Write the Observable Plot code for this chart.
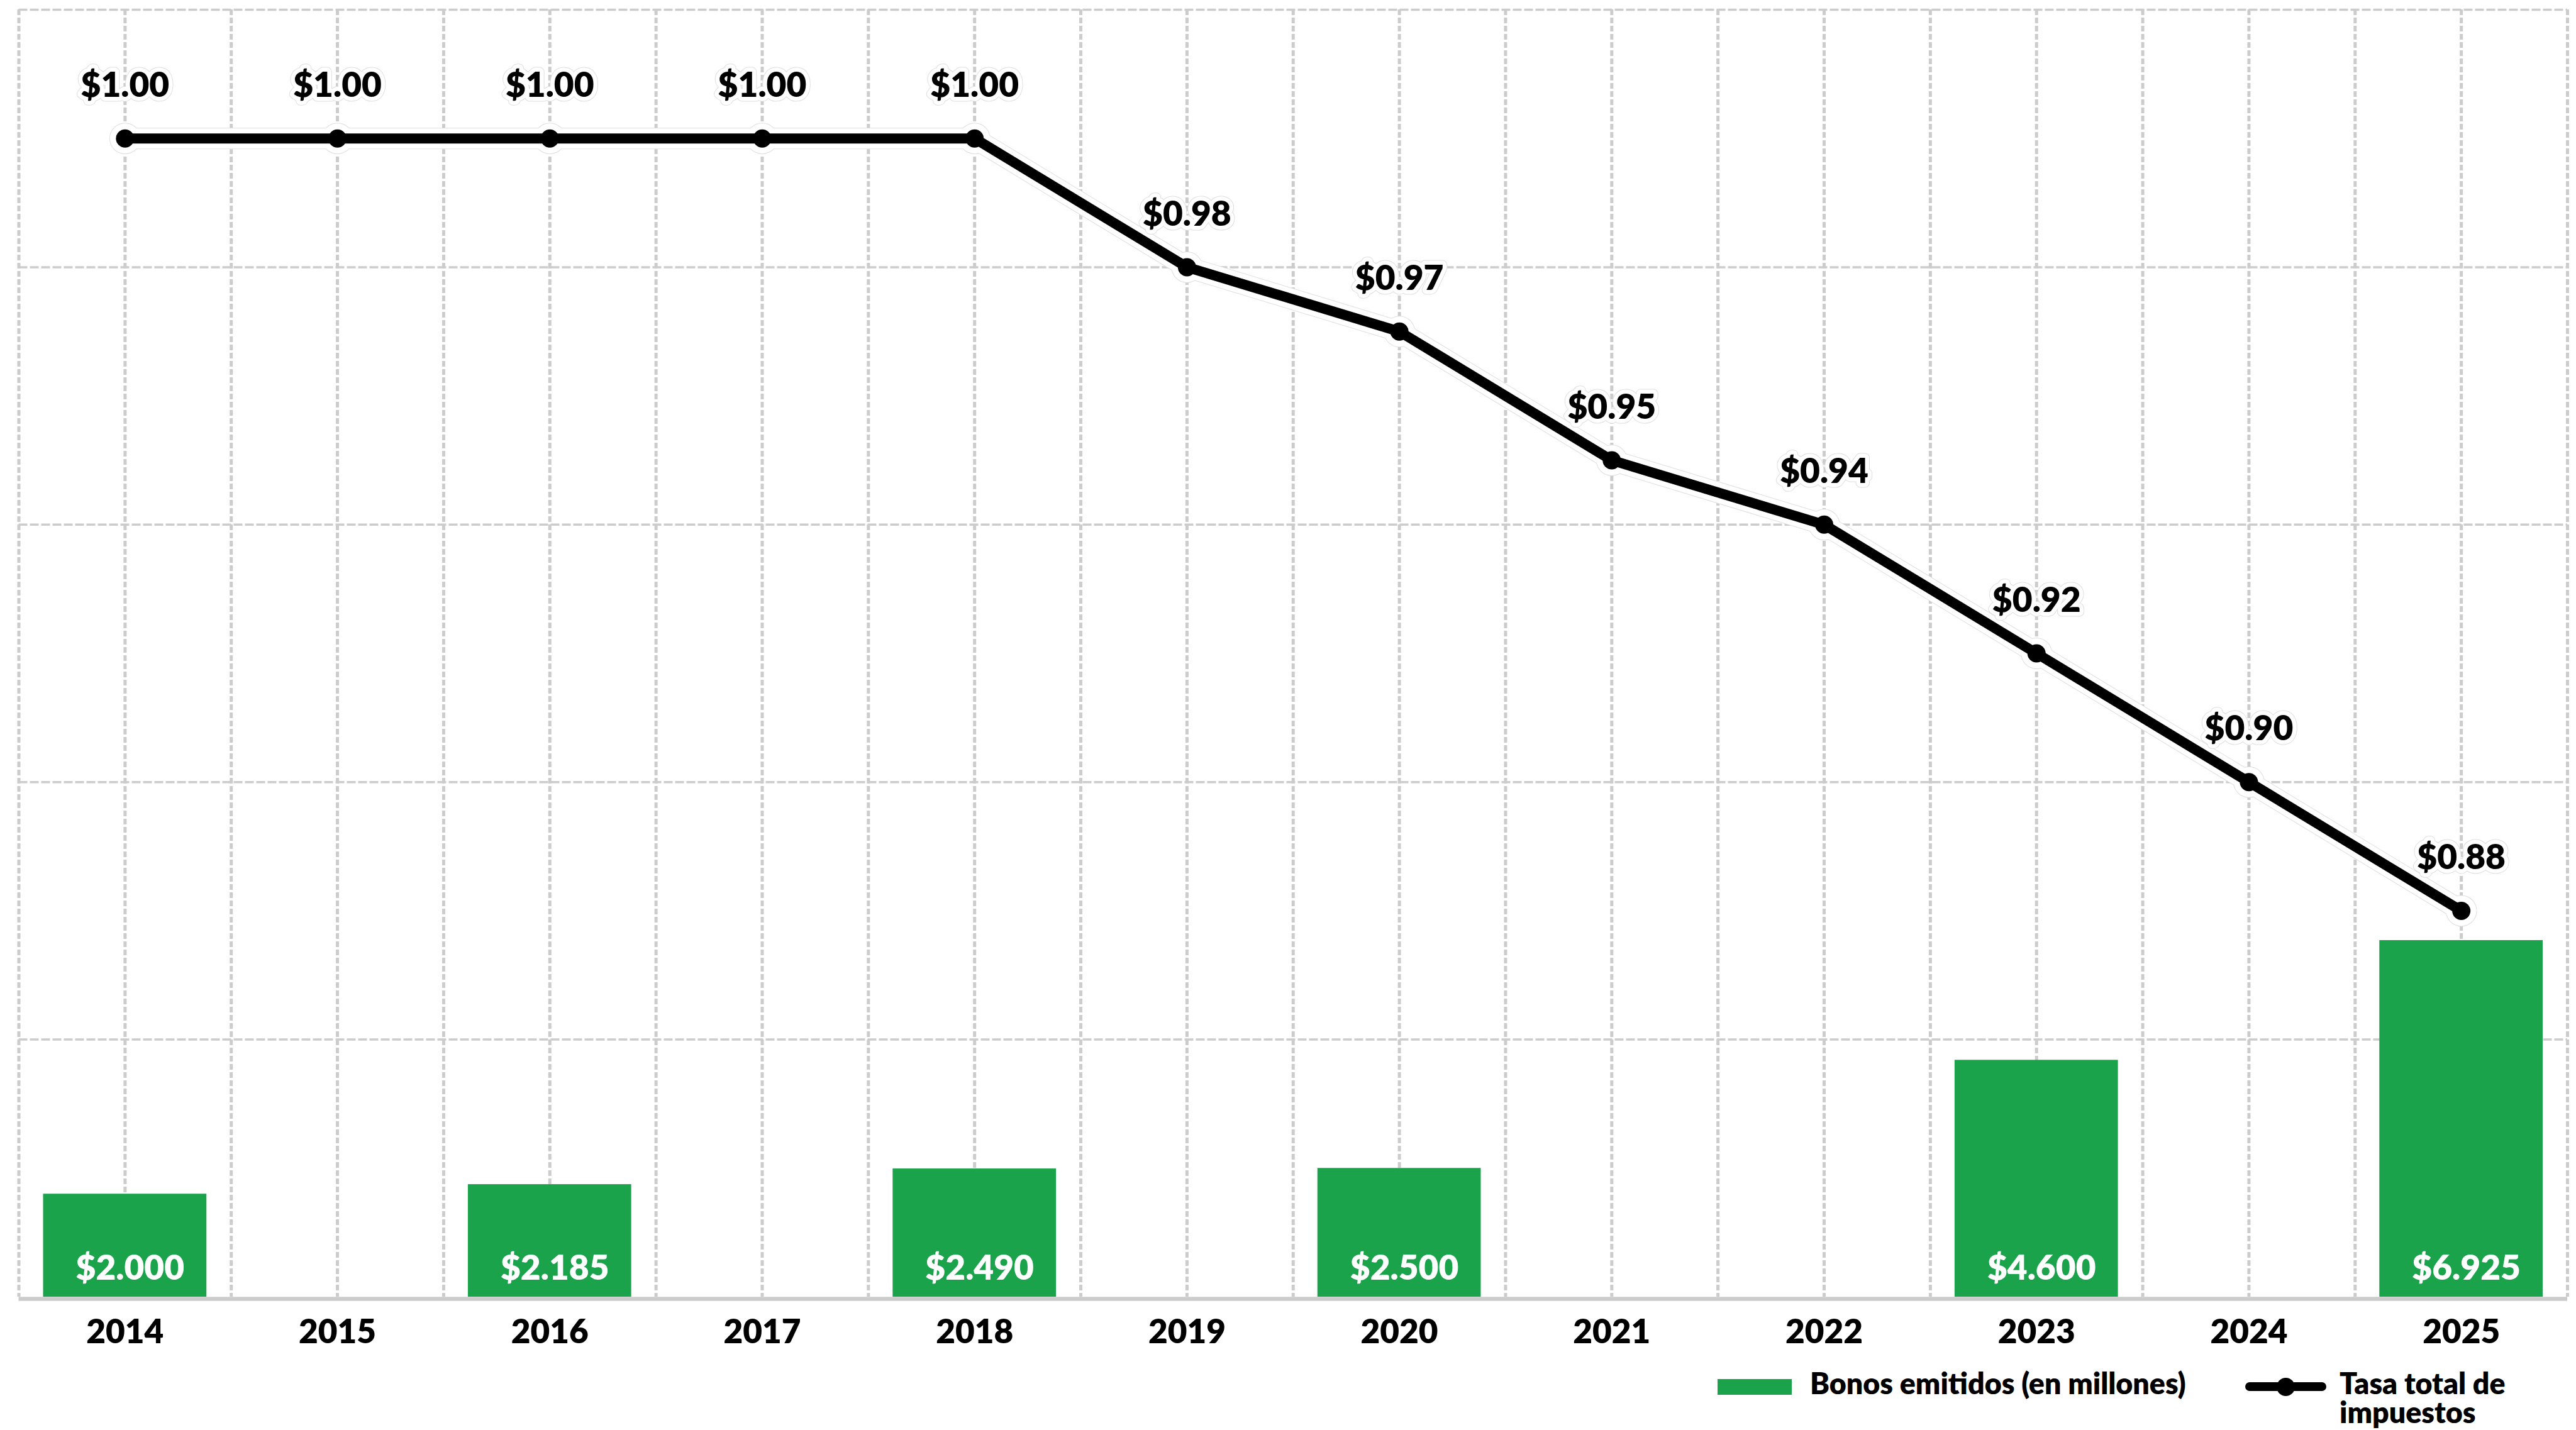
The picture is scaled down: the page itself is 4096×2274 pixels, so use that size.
<!DOCTYPE html>
<html>
<head>
<meta charset="utf-8">
<script src="https://cdn.jsdelivr.net/npm/d3@7"></script>
<script src="https://cdn.jsdelivr.net/npm/@observablehq/plot@0.6"></script>
<style>
  html, body { margin: 0; padding: 0; background: #fff; }
  #wrap { position: relative; width: 4096px; }
  #legend { position: relative; width: 4096px; height: 104px; font-family: Lato, "Open Sans", sans-serif; font-weight: 800; font-size: 46.5px; line-height: 46px; color: #000; }
  #legend > div { position: absolute; }
</style>
</head>
<body>
<div id="wrap"></div>
<div id="legend"></div>
<script>
// ---- data ----
const years = [2014, 2015, 2016, 2017, 2018, 2019, 2020, 2021, 2022, 2023, 2024, 2025];
const rates = [1.00, 1.00, 1.00, 1.00, 1.00, 0.98, 0.97, 0.95, 0.94, 0.92, 0.90, 0.88];
const bondYears = [2014, 2016, 2018, 2020, 2023, 2025];
const bondValues = [2000, 2185, 2490, 2500, 4600, 6925];
const legendLabels = ["Bonos emitidos (en millones)", "Tasa total de impuestos"];

const GREEN = "#1aa34a";
const GRID = "#cccccc";
const WEIGHT = 800;

const lineData = years.map((year, i) => ({year, rate: rates[i]}));
const barData = bondYears.map((year, i) => ({year, value: bondValues[i]}));

const es = d3.formatLocale({decimal: ",", thousands: ".", grouping: [3], currency: ["$", ""]});
const fmtBond = es.format("$,");
const fmtRate = d3.format("$.2f");

const W = 4096, H = 2170;
const margins = {marginLeft: 29.5, marginRight: 14, marginTop: 15, marginBottom: 108};
const xDomain = [years[0] - 0.5, years[years.length - 1] + 0.5];
const gridXs = years.flatMap(y => [y - 0.5, y]).concat([years[years.length - 1] + 0.5]);
const gridYs = [5000, 10000, 15000, 20000, 25000];
const font = {fontFamily: "Lato, 'Open Sans', sans-serif", fontWeight: WEIGHT, background: "transparent", overflow: "visible"};

const plotBars = Plot.plot({
  width: W, height: H, ...margins,
  style: {...font, fontSize: "52px"},
  x: {type: "linear", domain: xDomain, label: null},
  y: {domain: [0, 25000], axis: null},
  marks: [
    Plot.gridX(gridXs, {stroke: GRID, strokeOpacity: 1, strokeWidth: 5, strokeDasharray: "9,4"}),
    Plot.gridY(gridYs, {stroke: GRID, strokeOpacity: 1, strokeWidth: 3.5, strokeDasharray: "14,4"}),
    Plot.rectY(barData, {x1: d => d.year - 0.5, x2: d => d.year + 0.5, y: "value", fill: GREEN, insetLeft: 39, insetRight: 39}),
    Plot.text(barData, {x: "year", frameAnchor: "bottom", lineAnchor: "middle", dy: -45, dx: 8, text: d => fmtBond(d.value), fill: "white", fontSize: 55, fontWeight: WEIGHT}),
    Plot.ruleY([0], {stroke: GRID, strokeWidth: 6.3, dy: 3}),
    Plot.axisX(years, {tickSize: 0, tickPadding: 36, tickFormat: d => String(d), fontSize: 53, fontWeight: WEIGHT, fill: "#000", label: null})
  ]
});

const halo = "#dedede";
const plotLine = Plot.plot({
  width: W, height: H, ...margins,
  style: {...font, fontSize: "55px"},
  x: {type: "linear", domain: xDomain, axis: null},
  y: {domain: [0.82, 1.02], axis: null},
  marks: [
    Plot.line(lineData, {x: "year", y: "rate", stroke: halo, strokeWidth: 34, strokeLinejoin: "round", strokeLinecap: "round"}),
    Plot.dot(lineData, {x: "year", y: "rate", r: 25, fill: halo}),
    Plot.line(lineData, {x: "year", y: "rate", stroke: "white", strokeWidth: 32, strokeLinejoin: "round", strokeLinecap: "round"}),
    Plot.dot(lineData, {x: "year", y: "rate", r: 24, fill: "white"}),
    Plot.line(lineData, {x: "year", y: "rate", stroke: "black", strokeWidth: 16, strokeLinejoin: "round"}),
    Plot.dot(lineData, {x: "year", y: "rate", r: 14.5, fill: "black"}),
    Plot.text(lineData, {x: "year", y: "rate", text: d => fmtRate(d.rate), dy: -84, lineAnchor: "middle", fontSize: 55, fontWeight: WEIGHT, fill: "black", stroke: halo, strokeWidth: 15}),
    Plot.text(lineData, {x: "year", y: "rate", text: d => fmtRate(d.rate), dy: -84, lineAnchor: "middle", fontSize: 55, fontWeight: WEIGHT, fill: "black", stroke: "white", strokeWidth: 13})
  ]
});

const wrap = document.getElementById("wrap");
wrap.appendChild(plotBars);
plotLine.style.position = "absolute";
plotLine.style.left = "0";
plotLine.style.top = "0";
wrap.appendChild(plotLine);

// ---- legend ----
const legend = document.getElementById("legend");
function add(style, text) {
  const d = document.createElement("div");
  Object.assign(d.style, style);
  if (text) d.textContent = text;
  legend.appendChild(d);
  return d;
}
add({left: "2731px", top: "23px", width: "118px", height: "25px", background: GREEN});
add({left: "2878px", top: "6px", whiteSpace: "nowrap"}, legendLabels[0]);
add({left: "3570px", top: "28px", width: "129px", height: "14px", background: "#000", borderRadius: "7px"});
add({left: "3619.5px", top: "20.5px", width: "29px", height: "29px", background: "#000", borderRadius: "50%"});
add({left: "3720px", top: "6px", width: "340px"}, legendLabels[1]);
</script>
</body>
</html>
